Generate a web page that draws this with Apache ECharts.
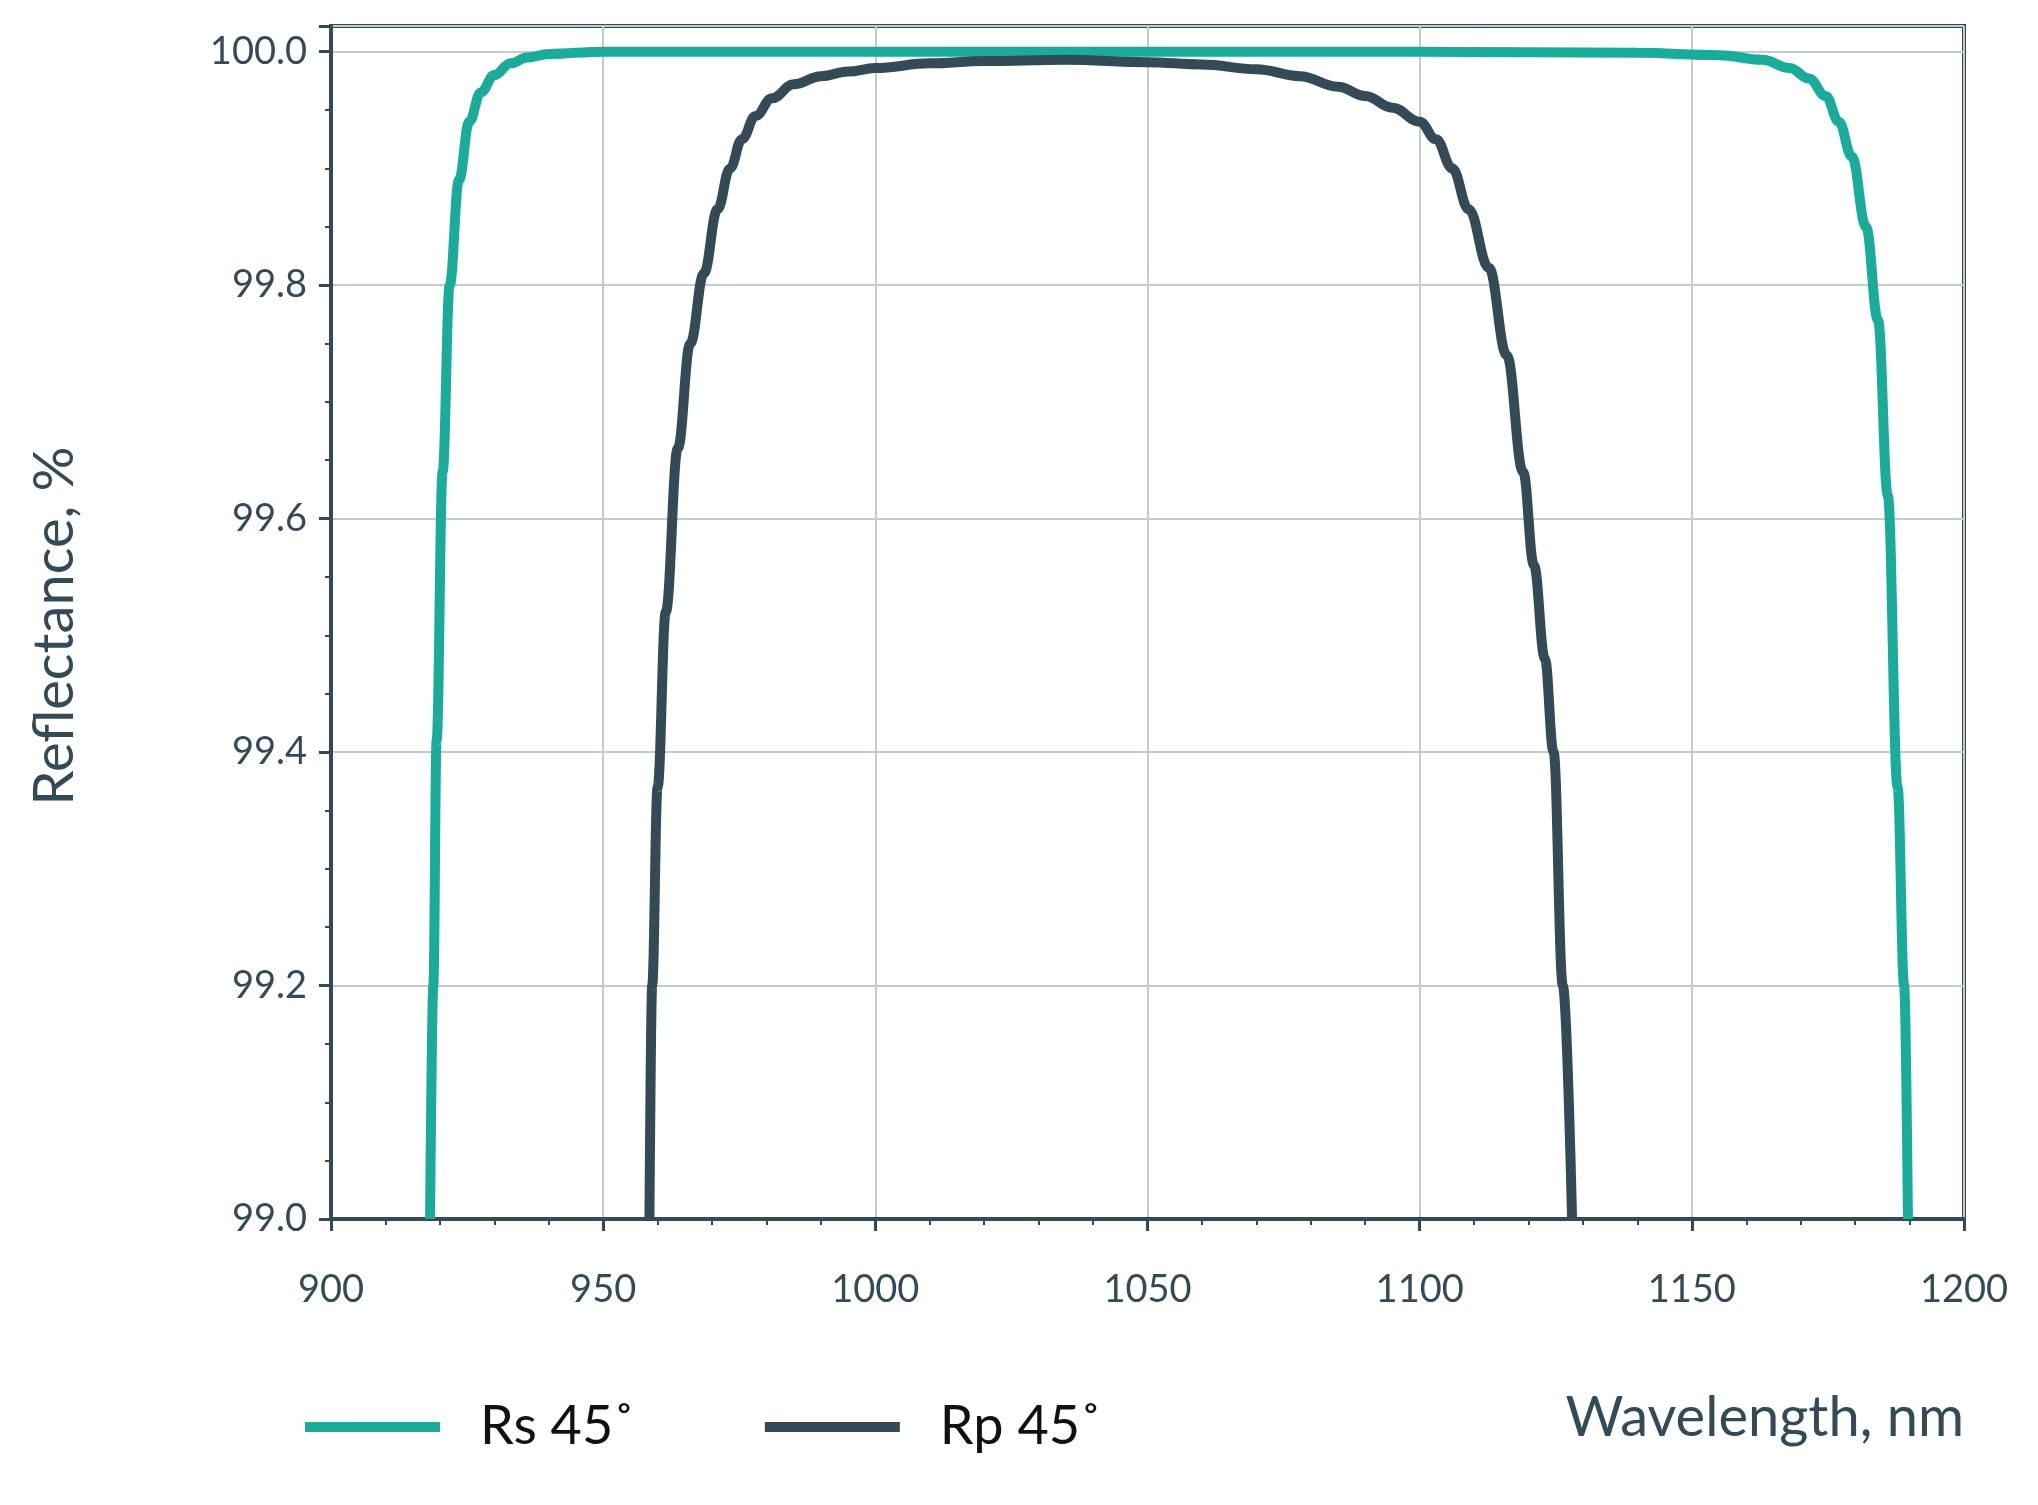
<!DOCTYPE html>
<html><head><meta charset="utf-8">
<script src="https://cdn.jsdelivr.net/npm/echarts@6/dist/echarts.min.js"></script>
<style>html,body{margin:0;padding:0;background:#fff}#main{width:2038px;height:1505px}</style>
</head><body><div id="main"></div>
<script>
var xTicks = [900, 950, 1000, 1050, 1100, 1150, 1200];
var yTicks = [99.0, 99.2, 99.4, 99.6, 99.8, 100.0];

// Rs 45°
var rsX = [918.2, 918.8, 919.4, 920.5, 921.8, 923.5, 925.4, 927.5, 930, 933, 936, 940, 950, 1000, 1050, 1100, 1140, 1155, 1163, 1168, 1171.5, 1174.6, 1177, 1179.4, 1182, 1184.2, 1186, 1187.8, 1189, 1189.7];
var rsY = [99.0, 99.2, 99.41, 99.64, 99.8, 99.89, 99.94, 99.965, 99.98, 99.99, 99.995, 99.998, 100.0, 100.0, 100.0, 100.0, 99.999, 99.997, 99.993, 99.986, 99.977, 99.962, 99.94, 99.91, 99.85, 99.77, 99.62, 99.37, 99.2, 99.0];
// Rp 45°
var rpX = [958.5, 959, 960, 961.5, 963.7, 966, 968.5, 971, 973.3, 975.5, 978, 981, 985, 990, 995, 1000, 1010, 1020, 1035, 1050, 1060, 1070, 1078, 1085, 1090, 1095, 1100, 1103, 1106, 1109, 1112.7, 1116, 1119, 1121, 1123, 1124.6, 1126.3, 1128];
var rpY = [99.0, 99.2, 99.37, 99.52, 99.66, 99.75, 99.81, 99.865, 99.9, 99.925, 99.945, 99.96, 99.972, 99.979, 99.983, 99.986, 99.99, 99.992, 99.993, 99.991, 99.989, 99.985, 99.979, 99.97, 99.962, 99.952, 99.94, 99.925, 99.9, 99.865, 99.815, 99.74, 99.64, 99.56, 99.48, 99.4, 99.2, 99.0];

function pairs(xs, ys) { return xs.map(function (x, i) { return [x, ys[i]]; }); }

var teal = '#1aab9b', dark = '#344b57', font = 'Lato';
var chart = echarts.init(document.getElementById('main'));
var option = {
  backgroundColor: '#fff',
  animation: false,
  grid: { left: 331, right: 74, top: 26, bottom: 286, show: true, borderColor: dark, borderWidth: 4 },
  legend: {
    left: 300, top: 1395, itemWidth: 135, itemHeight: 10, itemGap: 130,
    textStyle: { fontFamily: font, fontSize: 54, color: '#111', padding: [0, 0, 0, 35] },
    icon: 'rect',
    data: ['Rs 45˚', 'Rp 45˚']
  },
  xAxis: {
    type: 'value', min: 900, max: 1200, interval: 50,
    axisLine: { show: true, lineStyle: { color: dark, width: 4 } },
    axisTick: { show: true, length: 12, lineStyle: { color: dark, width: 3 } },
    minorTick: { show: true, splitNumber: 5, length: 6, lineStyle: { color: dark, width: 2 } },
    splitLine: { show: true, lineStyle: { color: '#c3cbcf', width: 2 } },
    axisLabel: { fontFamily: font, fontSize: 38, color: dark, margin: 52, formatter: function (v) { return String(v); } }
  },
  yAxis: {
    type: 'value', min: 99.0, max: 100.022, interval: 0.2,
    axisLine: { show: true, lineStyle: { color: dark, width: 4 } },
    axisTick: { show: true, length: 12, lineStyle: { color: dark, width: 3 } },
    minorTick: { show: true, splitNumber: 4, length: 6, lineStyle: { color: dark, width: 2 } },
    splitLine: { show: true, lineStyle: { color: '#c3cbcf', width: 2 } },
    axisLabel: {
      fontFamily: font, fontSize: 38, color: dark, margin: 24,
      formatter: function (v) { return yTicks.some(function (t) { return Math.abs(t - v) < 1e-6; }) ? v.toFixed(1) : ''; }
    }
  },
  graphic: [
    { type: 'text', right: 74, top: 1390, style: { text: 'Wavelength, nm', font: '56px ' + font, fill: dark } },
    { type: 'text', x: 55, y: 626, rotation: Math.PI / 2, style: { text: 'Reflectance, %', font: '56px ' + font, fill: dark, align: 'center', verticalAlign: 'middle' } }
  ],
  series: [
    { name: 'Rs 45˚', type: 'line', smooth: 0.4, smoothMonotone: 'x', symbol: 'none', data: pairs(rsX, rsY), lineStyle: { color: teal, width: 10 }, itemStyle: { color: teal } },
    { name: 'Rp 45˚', type: 'line', smooth: 0.4, smoothMonotone: 'x', symbol: 'none', data: pairs(rpX, rpY), lineStyle: { color: dark, width: 10 }, itemStyle: { color: dark } }
  ]
};
chart.setOption(option);
</script></body></html>
